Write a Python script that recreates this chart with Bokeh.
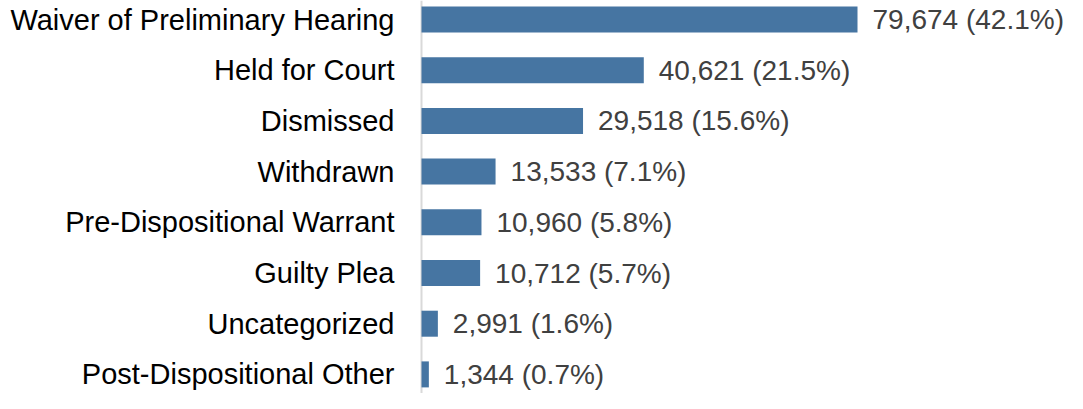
from bokeh.plotting import figure
from bokeh.models import Range1d, Span, ColumnDataSource
from bokeh.core.properties import value
from bokeh.embed import file_html
from bokeh.resources import INLINE

categories = ["Waiver of Preliminary Hearing", "Held for Court", "Dismissed", "Withdrawn",
              "Pre-Dispositional Warrant", "Guilty Plea", "Uncategorized", "Post-Dispositional Other"]
counts = [79674, 40621, 29518, 13533, 10960, 10712, 2991, 1344]
percents = [42.1, 21.5, 15.6, 7.1, 5.8, 5.7, 1.6, 0.7]

W, H = 1067, 393
zero_px = 421.0              # frame px where the zero line sits
px_per_unit = 436.0 / 79674  # horizontal scale
x_start = -zero_px / px_per_unit
x_end = x_start + W / px_per_unit

row_px = 50.7
top_px = 19.0
y_top = -top_px / row_px
y_bottom = y_top + H / row_px
bar_h = 26.0 / row_px

idx = list(range(len(categories)))
labels = [f"{c:,} ({p}%)" for c, p in zip(counts, percents)]
src = ColumnDataSource(dict(y=idx, cat=categories, v=counts, lab=labels, zero=[0] * len(idx)))

p = figure(width=W, height=H, output_backend="svg", toolbar_location=None,
           x_range=Range1d(x_start, x_end), y_range=Range1d(y_bottom, y_top),
           min_border=0, min_border_left=0, min_border_right=0,
           min_border_top=0, min_border_bottom=0)
p.axis.visible = False
p.grid.visible = False
p.outline_line_color = None
p.background_fill_color = "white"
p.border_fill_color = "white"

p.add_layout(Span(location=0, dimension="height", line_color="#d9d9d9", line_width=2, level="underlay"))

p.hbar(y="y", left=0, right="v", height=bar_h, source=src, fill_color="#4675a2", line_color=None)

p.text(x="zero", y="y", text="cat", source=src, x_offset=-27, text_align="right",
       text_baseline="middle", text_font=value("Liberation Sans"), text_font_size="29px",
       text_color="#000000")
p.text(x="v", y="y", text="lab", source=src, x_offset=15, text_align="left",
       text_baseline="middle", text_font=value("Liberation Sans"), text_font_size="28px",
       text_color="#404040")

open("out.html", "w").write(file_html(p, INLINE))
